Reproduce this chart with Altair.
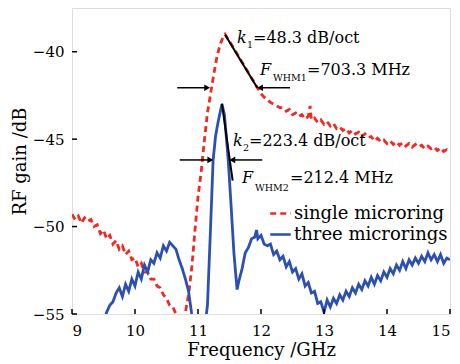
import altair as alt
import pandas as pd

# ---------------- data ----------------
single_f = [9.00, 9.05, 9.10, 9.15, 9.20, 9.25, 9.30, 9.35, 9.40, 9.45, 9.50, 9.55, 9.60, 9.65,
            9.70, 9.75, 9.80, 9.85, 9.90, 9.95, 10.00, 10.05, 10.10, 10.15, 10.20, 10.25, 10.30,
            10.35, 10.40, 10.45, 10.50, 10.55, 10.60, 10.65, 10.70, 10.75, 10.80, 10.85, 10.90,
            10.95, 11.00, 11.05, 11.10, 11.15, 11.20, 11.25, 11.30, 11.35, 11.40, 11.43, 11.50,
            11.60, 11.70, 11.80, 11.90, 11.95, 12.00, 12.05, 12.10, 12.15, 12.20, 12.25, 12.30,
            12.35, 12.40, 12.45, 12.50, 12.55, 12.60, 12.65, 12.70, 12.75, 12.78, 12.80, 12.85,
            12.90, 12.95, 13.00, 13.05, 13.10, 13.15, 13.20, 13.25, 13.30, 13.35, 13.40, 13.45,
            13.50, 13.55, 13.60, 13.65, 13.70, 13.75, 13.80, 13.85, 13.90, 13.95, 14.00, 14.05,
            14.10, 14.15, 14.20, 14.25, 14.30, 14.35, 14.40, 14.45, 14.50, 14.55, 14.60, 14.65,
            14.70, 14.75, 14.80, 14.85, 14.90, 14.95, 15.00]
single_g = [-49.3, -49.6, -49.4, -49.8, -49.5, -49.7, -49.6, -50.0, -49.9, -50.4, -50.2, -50.7,
            -50.5, -51.0, -50.8, -51.3, -51.1, -51.6, -51.4, -51.9, -51.8, -52.3, -52.1, -52.6,
            -52.6, -53.0, -53.0, -53.4, -53.5, -53.9, -54.1, -54.5, -54.6, -55.0, -55.3, -55.5,
            -54.9, -53.9, -52.4, -50.3, -48.3, -46.9, -45.1, -43.5, -42.4, -41.3, -40.3, -39.6,
            -39.15, -39.0, -39.4, -40.0, -40.6, -41.2, -41.8, -42.1, -42.4, -42.6, -42.75, -42.9,
            -43.0, -43.1, -43.2, -43.2, -43.4, -43.3, -43.6, -43.5, -43.7, -43.6, -43.85, -43.7,
            -43.1, -43.9, -43.8, -44.05, -43.9, -44.15, -44.0, -44.25, -44.1, -44.4, -44.3, -44.5,
            -44.4, -44.65, -44.5, -44.7, -44.6, -44.85, -44.7, -44.9, -44.85, -45.1, -44.95,
            -45.15, -45.05, -45.25, -45.1, -45.3, -45.15, -45.35, -45.2, -45.4, -45.25, -45.45,
            -45.3, -45.45, -45.35, -45.55, -45.4, -45.55, -45.45, -45.65, -45.5, -45.7, -45.6,
            -45.75]

three_f = [9.50, 9.55, 9.60, 9.65, 9.70, 9.75, 9.80, 9.85, 9.90, 9.95, 10.00, 10.05, 10.10,
           10.15, 10.20, 10.25, 10.30, 10.35, 10.40, 10.45, 10.50, 10.55, 10.60, 10.65, 10.70,
           10.75, 10.80, 10.85, 10.90, 10.95, 11.10, 11.15, 11.20, 11.24, 11.28, 11.32, 11.38,
           11.42, 11.48, 11.52, 11.57, 11.62, 11.65, 11.70, 11.75, 11.80, 11.85, 11.90, 11.93,
           11.95, 12.00, 12.05, 12.10, 12.15, 12.20, 12.25, 12.30, 12.35, 12.40, 12.45, 12.50,
           12.55, 12.60, 12.65, 12.70, 12.75, 12.80, 12.85, 12.90, 12.95, 13.00, 13.05, 13.10,
           13.15, 13.20, 13.25, 13.30, 13.35, 13.40, 13.45, 13.50, 13.55, 13.60, 13.65, 13.70,
           13.75, 13.80, 13.85, 13.90, 13.95, 14.00, 14.05, 14.10, 14.15, 14.20, 14.25, 14.30,
           14.35, 14.40, 14.45, 14.50, 14.55, 14.60, 14.65, 14.70, 14.75, 14.80, 14.85, 14.90,
           14.95, 15.00]
three_g = [-55.5, -54.9, -54.5, -54.3, -53.8, -53.5, -54.0, -53.3, -53.7, -53.0, -53.4, -52.6,
           -53.0, -52.2, -52.6, -51.9, -52.1, -51.5, -51.8, -51.1, -51.4, -50.9, -51.1, -51.3,
           -51.9, -52.4, -53.0, -53.7, -55.0, -56.0, -56.0, -54.5, -50.0, -46.2, -44.8, -44.0,
           -43.0, -43.6, -46.2, -48.5, -51.5, -53.6, -53.1, -52.4, -51.5, -51.2, -50.7, -50.6,
           -50.2, -50.7, -50.5, -51.0, -51.1, -51.0, -51.6, -51.4, -51.9, -51.7, -52.3, -52.0,
           -52.6, -52.4, -53.0, -52.7, -53.4, -53.2, -53.8, -53.7, -54.4, -54.3, -54.9, -54.2,
           -54.6, -54.1, -54.4, -53.9, -54.2, -53.7, -54.0, -53.5, -53.8, -53.3, -53.6, -53.1,
           -53.4, -52.9, -53.3, -52.8, -53.1, -52.6, -52.9, -52.4, -52.7, -52.2, -52.5, -52.0,
           -52.4, -51.9, -52.2, -51.8, -52.1, -51.7, -52.0, -51.5, -51.9, -51.6, -52.0, -51.6,
           -52.1, -51.8, -51.9]

series = ["single microring", "three microrings"]
colors = ["#ee2a24", "#2c50b0"]

x_ticks = [9, 10, 11, 12, 13, 14, 15]
y_ticks = [-55, -50, -45, -40]

# slope lines (k1, k2)
slope_x = [11.43, 11.94, 11.38, 11.55]
slope_y = [-39.03, -42.06, -42.97, -47.37]
slope_id = ["k1", "k1", "k2", "k2"]

# FWHM arrows: start x, tip x, y
arrow_x0 = [10.67, 12.46, 10.71, 12.02]
arrow_x1 = [11.19, 11.94, 11.24, 11.50]
arrow_y = [-42.06, -42.06, -46.19, -46.19]

# annotation text pieces
ann_x = [11.619, 11.778, 11.873, 11.984, 12.190, 12.730,
         11.556, 11.714, 11.810, 11.698, 11.905, 12.460]
ann_y = [-39.50, -39.79, -39.50, -41.33, -41.67, -41.33,
         -45.39, -45.68, -45.39, -47.51, -47.97, -47.51]
ann_t = ["k", "1", "=48.3 dB/oct", "F", "WHM1", "=703.3 MHz",
         "k", "2", "=223.4 dB/oct", "F", "WHM2", "=212.4 MHz"]
ann_kind = ["it", "sub", "txt", "it", "sub", "txt",
            "it", "sub", "txt", "it", "sub", "txt"]

# ---------------- build chart ----------------
W, H = 378, 306
FONT = "DejaVu Serif"

df = pd.concat([
    pd.DataFrame({"f": single_f, "g": single_g, "s": series[0], "i": range(len(single_f))}),
    pd.DataFrame({"f": three_f, "g": three_g, "s": series[1], "i": range(len(three_f))}),
])

xs = alt.Scale(domain=[9, 15], nice=False, zero=False)
ys = alt.Scale(domain=[-55, -37.5], nice=False, zero=False)

x_axis = alt.Axis(values=x_ticks, title="Frequency /GHz", grid=False, domain=False,
                  tickSize=0, labelPadding=9, labelFont=FONT, labelFontSize=15,
                  labelColor="black", titleFont=FONT, titleFontSize=18,
                  titleFontWeight="normal", titleColor="black", titlePadding=3,
                  format="d")
y_axis = alt.Axis(values=y_ticks, title="RF gain /dB", grid=False, domain=False,
                  tickSize=0, labelPadding=8, labelFont=FONT, labelFontSize=15,
                  labelColor="black", titleFont=FONT, titleFontSize=18,
                  titleFontWeight="normal", titleColor="black", titlePadding=3,
                  format="d")

legend = alt.Legend(title=None, orient="none", legendX=197, legendY=194,
                    labelFont=FONT, labelFontSize=18, labelColor="black",
                    symbolType="stroke", symbolSize=420, symbolStrokeWidth=2.5,
                    labelOffset=2, rowPadding=0, padding=0)

lines = alt.Chart(df).mark_line(clip=True, strokeWidth=2.8).encode(
    x=alt.X("f:Q", scale=xs, axis=x_axis),
    y=alt.Y("g:Q", scale=ys, axis=y_axis),
    color=alt.Color("s:N", scale=alt.Scale(domain=series, range=colors), legend=legend),
    strokeDash=alt.StrokeDash("s:N", scale=alt.Scale(domain=series, range=[[6, 4], [1, 0]]),
                              legend=legend),
    order="i:Q",
)

slope_df = pd.DataFrame({"x": slope_x, "y": slope_y, "id": slope_id})
slopes = alt.Chart(slope_df).mark_line(color="black", strokeWidth=2).encode(
    x=alt.X("x:Q", scale=xs), y=alt.Y("y:Q", scale=ys), detail="id:N")

arr_df = pd.DataFrame({"x0": arrow_x0, "x1": arrow_x1, "y": arrow_y})
arr_df["dir"] = ["r" if b > a else "l" for a, b in zip(arrow_x0, arrow_x1)]
arr_df["hx"] = [b - 0.045 if d == "r" else b + 0.045 for b, d in zip(arr_df["x1"], arr_df["dir"])]
shafts = alt.Chart(arr_df).mark_rule(color="black", strokeWidth=1.5).encode(
    x=alt.X("x0:Q", scale=xs), x2="hx:Q", y=alt.Y("y:Q", scale=ys))
heads_r = alt.Chart(arr_df).transform_filter("datum.dir == 'r'").mark_point(
    shape="triangle-right", filled=True, color="black", size=45, opacity=1).encode(
    x=alt.X("hx:Q", scale=xs), y=alt.Y("y:Q", scale=ys))
heads_l = alt.Chart(arr_df).transform_filter("datum.dir == 'l'").mark_point(
    shape="triangle-left", filled=True, color="black", size=45, opacity=1).encode(
    x=alt.X("hx:Q", scale=xs), y=alt.Y("y:Q", scale=ys))

ann_df = pd.DataFrame({"x": ann_x, "y": ann_y, "t": ann_t, "k": ann_kind})
def ann_layer(kind, **kw):
    return alt.Chart(ann_df).transform_filter(f"datum.k == '{kind}'").mark_text(
        align="left", baseline="alphabetic", font=FONT, color="black", **kw).encode(
        x=alt.X("x:Q", scale=xs), y=alt.Y("y:Q", scale=ys), text="t:N")

ann_it = ann_layer("it", fontSize=16, fontStyle="italic")
ann_sub = ann_layer("sub", fontSize=9.5)
ann_txt = ann_layer("txt", fontSize=16)

# inward ticks
xt_df = pd.DataFrame({"v": x_ticks})
yt_df = pd.DataFrame({"v": y_ticks})
xticks = alt.Chart(xt_df).mark_rule(color="black", strokeWidth=1.5).encode(
    x=alt.X("v:Q", scale=xs), y=alt.value(H), y2=alt.value(H - 5))
yticks = alt.Chart(yt_df).mark_rule(color="black", strokeWidth=1.5).encode(
    y=alt.Y("v:Q", scale=ys), x=alt.value(0), x2=alt.value(5))

chart = alt.layer(lines, slopes, shafts, heads_r, heads_l, ann_it, ann_sub, ann_txt,
                  xticks, yticks).properties(
    width=W, height=H,
    autosize=alt.AutoSizeParams(type="none"),
    padding={"left": 64, "top": 0, "right": 2, "bottom": 46},
).configure_view(stroke="black", strokeWidth=2).configure(background="white")

chart.save("out.html", embed_options={"renderer": "svg", "actions": False})
